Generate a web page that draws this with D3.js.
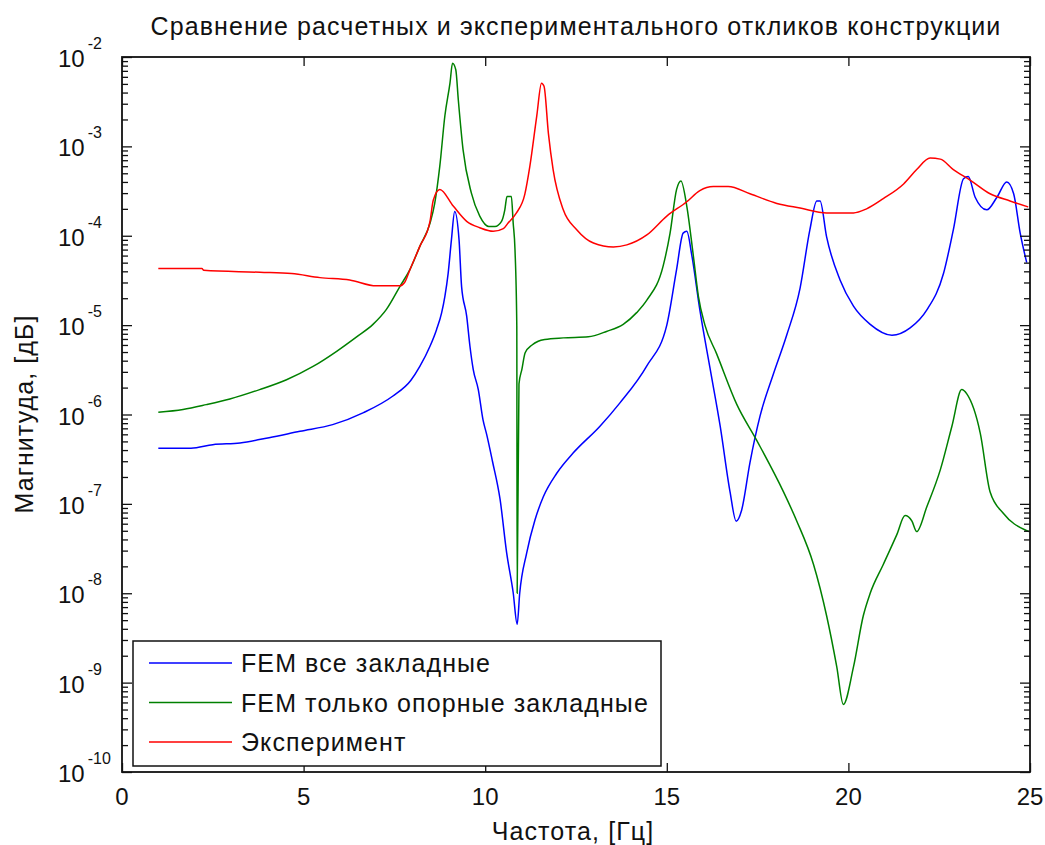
<!DOCTYPE html>
<html>
<head>
<meta charset="utf-8">
<script src="https://cdn.jsdelivr.net/npm/d3@7"></script>
<style>
  body { margin: 0; background: #fff; }
  text { font-family: "Liberation Sans", Arial, sans-serif; fill: #111; }
  .label { font-size: 25px; letter-spacing: 1.1px; }
</style>
</head>
<body>
<div class="chart"></div>
<script>
// chart values
var freqBlue = [1.0, 1.9, 2.5, 3.25, 4.05, 4.9, 5.8, 6.65, 7.45, 7.95, 8.2, 8.48, 8.66, 8.8, 8.89, 8.98, 9.07, 9.16,
  9.28, 9.35, 9.49, 9.58, 9.67, 9.81, 9.94, 10.04, 10.2, 10.41, 10.59, 10.77, 10.88, 10.95, 11.14, 11.37, 11.6, 11.97,
  12.42, 13.16, 13.71, 14.45, 15.0, 15.27, 15.45, 15.55, 15.69, 15.91, 16.19, 16.47, 16.74, 16.91, 17.06, 17.29, 17.57,
  17.93, 18.3, 18.67, 18.94, 19.13, 19.22, 19.4, 19.77, 20.14, 20.6, 21.2, 21.7, 22.16, 22.62, 22.89, 23.17, 23.3,
  23.49, 23.81, 24.09, 24.36, 24.55, 24.73, 24.91];
var magBlue = [4.2e-7, 4.2e-7, 4.6e-7, 4.8e-7, 5.5e-7, 6.5e-7, 7.7e-7, 1.05e-6, 1.6e-6, 2.4e-6, 3.45e-6, 5.8e-6, 8.9e-6, 1.37e-5, 2.1e-5, 3.8e-5, 9e-5, 1.87e-4,
  9e-5, 2.7e-5, 1.26e-5, 5.8e-6, 3.2e-6, 1.9e-6, 8.7e-7, 6e-7, 3e-7, 1.12e-7, 2.85e-8, 1.02e-8, 4.5e-9, 1e-8, 2.8e-8, 6.6e-8, 1.2e-7, 2.2e-7,
  3.7e-7, 7.4e-7, 1.35e-6, 3.5e-6, 1e-5, 4.2e-5, 1.07e-4, 1.12e-4, 6e-5, 1.48e-5, 3.3e-6, 7.4e-7, 1.37e-7, 6.4e-8, 8.5e-8, 2.9e-7, 9.7e-7,
  2.8e-6, 7.7e-6, 2.6e-5, 1.17e-4, 2.45e-4, 2.45e-4, 9.7e-5, 3.2e-5, 1.63e-5, 1.02e-5, 7.7e-6, 9.3e-6, 1.48e-5, 3.8e-5, 1.17e-4, 4.35e-4, 4.6e-4,
  2.7e-4, 1.95e-4, 2.7e-4, 4e-4, 2.95e-4, 1.07e-4, 5e-5];

var freqGreen = [1.0, 1.68, 2.32, 2.97, 3.79, 4.53, 5.26, 5.91, 6.46, 6.91, 7.28, 7.65, 7.93, 8.2, 8.48, 8.61, 8.75, 8.89,
  9.03, 9.1, 9.19, 9.26, 9.39, 9.62, 9.85, 10.1, 10.27, 10.45, 10.54, 10.6, 10.72, 10.77, 10.82, 10.87, 10.88, 10.93,
  11.01, 11.1, 11.29, 11.46, 11.64, 12.15, 12.84, 13.34, 13.8, 14.17, 14.45, 14.9, 15.09, 15.27, 15.39, 15.55, 15.73,
  15.87, 16.05, 16.37, 16.93, 17.48, 18.21, 18.58, 19.04, 19.4, 19.68, 19.86, 20.14, 20.41, 20.6, 20.96, 21.33, 21.56,
  21.75, 21.88, 22.16, 22.53, 22.85, 23.12, 23.26, 23.63, 23.9, 24.27, 24.87, 24.97];
var magGreen = [1.06e-6, 1.14e-6, 1.29e-6, 1.49e-6, 1.9e-6, 2.45e-6, 3.45e-6, 5.1e-6, 7.4e-6, 1.02e-5, 1.5e-5, 2.7e-5, 4.2e-5, 7.6e-5, 1.38e-4, 2.3e-4, 6e-4, 2.2e-3,
  5.1e-3, 8.5e-3, 7.2e-3, 3.3e-3, 9.2e-4, 3e-4, 1.66e-4, 1.27e-4, 1.27e-4, 1.45e-4, 1.95e-4, 2.75e-4, 2.75e-4, 1.4e-4, 7e-5, 9.8e-6, 1e-8, 2.2e-6,
  3.2e-6, 4.9e-6, 6e-6, 6.6e-6, 6.9e-6, 7.2e-6, 7.4e-6, 8.5e-6, 1.02e-5, 1.38e-5, 1.9e-5, 4.6e-5, 1.07e-4, 3.3e-4, 4.1e-4, 2.15e-4, 6e-5,
  2.1e-5, 1e-5, 4.8e-6, 1.29e-6, 5.1e-7, 1.37e-7, 6.4e-8, 2.1e-8, 5.6e-9, 1.5e-9, 5.7e-10, 1.5e-9, 5.6e-9, 1e-8, 2.1e-8, 4.5e-8, 7.4e-8,
  6.4e-8, 4.9e-8, 9.3e-8, 2.4e-7, 7.4e-7, 1.9e-6, 1.7e-6, 6.2e-7, 1.37e-7, 7.8e-8, 5.1e-8, 4.9e-8];

var freqRed = [1.0, 2.2, 2.25, 3.8, 4.67, 5.45, 6.27, 7.0, 7.65, 7.78, 7.93, 8.2, 8.48, 8.57, 8.75, 9.12, 9.49, 9.85,
  10.22, 10.5, 10.63, 10.86, 11.09, 11.23, 11.42, 11.55, 11.62, 11.74, 11.87, 12.15, 12.52, 12.98, 13.53, 13.9, 14.45,
  15.0, 15.55, 15.91, 16.28, 16.69, 17.29, 18.03, 18.67, 19.4, 20.14, 20.5, 20.96, 21.52, 21.88, 22.25, 22.53, 22.89,
  23.35, 23.9, 24.45, 24.95];
var magRed = [4.3e-5, 4.3e-5, 4.1e-5, 3.9e-5, 3.77e-5, 3.4e-5, 3.2e-5, 2.75e-5, 2.75e-5, 3.0e-5, 4.2e-5, 7.6e-5, 1.45e-4, 2.5e-4, 3.3e-4, 2.15e-4, 1.45e-4, 1.23e-4,
  1.12e-4, 1.2e-4, 1.39e-4, 1.8e-4, 2.9e-4, 6e-4, 2.2e-3, 5.1e-3, 4.7e-3, 1.4e-3, 5.5e-4, 1.95e-4, 1.17e-4, 8.3e-5, 7.5e-5, 7.9e-5, 1.02e-4,
  1.66e-4, 2.4e-4, 3.2e-4, 3.55e-4, 3.55e-4, 2.95e-4, 2.3e-4, 2.04e-4, 1.8e-4, 1.8e-4, 2e-4, 2.6e-4, 3.8e-4, 5.5e-4, 7.4e-4, 7.2e-4, 5.5e-4,
  4.2e-4, 2.95e-4, 2.45e-4, 2.1e-4];

var seriesNames = ["FEM все закладные", "FEM только опорные закладные", "Эксперимент"];
var seriesColors = ["#0000ff", "#008000", "#ff0000"];
var xTickValues = [0, 5, 10, 15, 20, 25];
var yExponents = [-10, -9, -8, -7, -6, -5, -4, -3, -2];

var titleText = "Сравнение расчетных и экспериментального откликов конструкции";
var xLabelText = "Частота, [Гц]";
var yLabelText = "Магнитуда, [дБ]";

var svgWidth = 1045;
var svgHeight = 845;

var margin = {
  top: 57,
  right: 15,
  bottom: 73,
  left: 122
};

var width = svgWidth - margin.left - margin.right;
var height = svgHeight - margin.top - margin.bottom;

var svg = d3.select(".chart")
  .append("svg")
  .attr("width", svgWidth)
  .attr("height", svgHeight);

var chartGroup = svg.append("g")
  .attr("transform", `translate(${margin.left}, ${margin.top})`);

// scales
var xLinearScale = d3.scaleLinear()
  .domain([0, 25])
  .range([0, width]);

var yLogScale = d3.scaleLog()
  .domain([1e-10, 1e-2])
  .range([height, 0]);

var yMajor = yExponents.map(e => Math.pow(10, e));
var yMinor = yLogScale.ticks().filter(v => Math.abs(Math.log10(v) - Math.round(Math.log10(v))) > 1e-6);

// curves
var series = [
  {name: seriesNames[0], color: seriesColors[0], points: d3.zip(freqBlue, magBlue)},
  {name: seriesNames[1], color: seriesColors[1], points: d3.zip(freqGreen, magGreen)},
  {name: seriesNames[2], color: seriesColors[2], points: d3.zip(freqRed, magRed)}
];

var line = d3.line()
  .x(d => xLinearScale(d[0]))
  .y(d => yLogScale(d[1]))
  .curve(d3.curveMonotoneX);

chartGroup.append("g")
  .selectAll("path")
  .data(series)
  .join("path")
    .attr("d", d => line(d.points))
    .attr("fill", "none")
    .attr("stroke", d => d.color)
    .attr("stroke-width", 1.5);

// axes, ticks pointing inward on all four sides
function styleAxis(g) {
  g.select(".domain").remove();
  g.selectAll(".tick line").attr("stroke", "#111").attr("stroke-width", 1.3);
  g.selectAll(".tick text").remove();
}

chartGroup.append("g")
  .attr("transform", `translate(0, ${height})`)
  .call(d3.axisBottom(xLinearScale).tickValues(xTickValues).tickSize(-9))
  .call(styleAxis);

chartGroup.append("g")
  .call(d3.axisTop(xLinearScale).tickValues(xTickValues).tickSize(-9))
  .call(styleAxis);

chartGroup.append("g")
  .call(d3.axisLeft(yLogScale).tickValues(yMajor).tickSize(-10))
  .call(styleAxis);

chartGroup.append("g")
  .call(d3.axisLeft(yLogScale).tickValues(yMinor).tickSize(-6))
  .call(styleAxis);

chartGroup.append("g")
  .attr("transform", `translate(${width}, 0)`)
  .call(d3.axisRight(yLogScale).tickValues(yMajor).tickSize(-10))
  .call(styleAxis);

chartGroup.append("g")
  .attr("transform", `translate(${width}, 0)`)
  .call(d3.axisRight(yLogScale).tickValues(yMinor).tickSize(-6))
  .call(styleAxis);

chartGroup.append("rect")
  .attr("width", width)
  .attr("height", height)
  .attr("fill", "none")
  .attr("stroke", "#111")
  .attr("stroke-width", 1.8);

// tick labels
chartGroup.append("g")
  .selectAll("text")
  .data(xTickValues)
  .join("text")
    .attr("x", d => xLinearScale(d))
    .attr("y", height + 33)
    .attr("text-anchor", "middle")
    .style("font-size", "24px")
    .text(d => d);

chartGroup.append("g")
  .selectAll("text")
  .data(yExponents)
  .join("text")
    .attr("x", -64)
    .attr("y", d => yLogScale(Math.pow(10, d)) + 10)
    .style("font-size", "24px")
    .call(t => t.append("tspan").text("10"))
    .call(t => t.append("tspan")
      .attr("dx", 3)
      .attr("dy", -18)
      .style("font-size", "16px")
      .text(d => d));

// title and axis labels
svg.append("text")
  .attr("class", "label")
  .attr("x", margin.left + width / 2)
  .attr("y", 35)
  .attr("text-anchor", "middle")
  .text(titleText);

svg.append("text")
  .attr("class", "label")
  .attr("x", 573)
  .attr("y", 840)
  .attr("text-anchor", "middle")
  .text(xLabelText);

svg.append("text")
  .attr("class", "label")
  .attr("transform", `translate(33, 414) rotate(-90)`)
  .attr("text-anchor", "middle")
  .text(yLabelText);

// legend
var legend = svg.append("g").attr("transform", "translate(133, 641)");

legend.append("rect")
  .attr("width", 528)
  .attr("height", 125)
  .attr("fill", "#fff")
  .attr("stroke", "#111")
  .attr("stroke-width", 1.5);

var legendRow = legend.selectAll(".legend-row")
  .data(series)
  .join("g")
    .attr("class", "legend-row")
    .attr("transform", (d, i) => `translate(0, ${22 + i * 39.5})`);

legendRow.append("line")
  .attr("x1", 16)
  .attr("x2", 99)
  .attr("stroke", d => d.color)
  .attr("stroke-width", 1.5);

legendRow.append("text")
  .attr("class", "label")
  .attr("x", 108)
  .attr("y", 9)
  .text(d => d.name);
</script>
</body>
</html>
